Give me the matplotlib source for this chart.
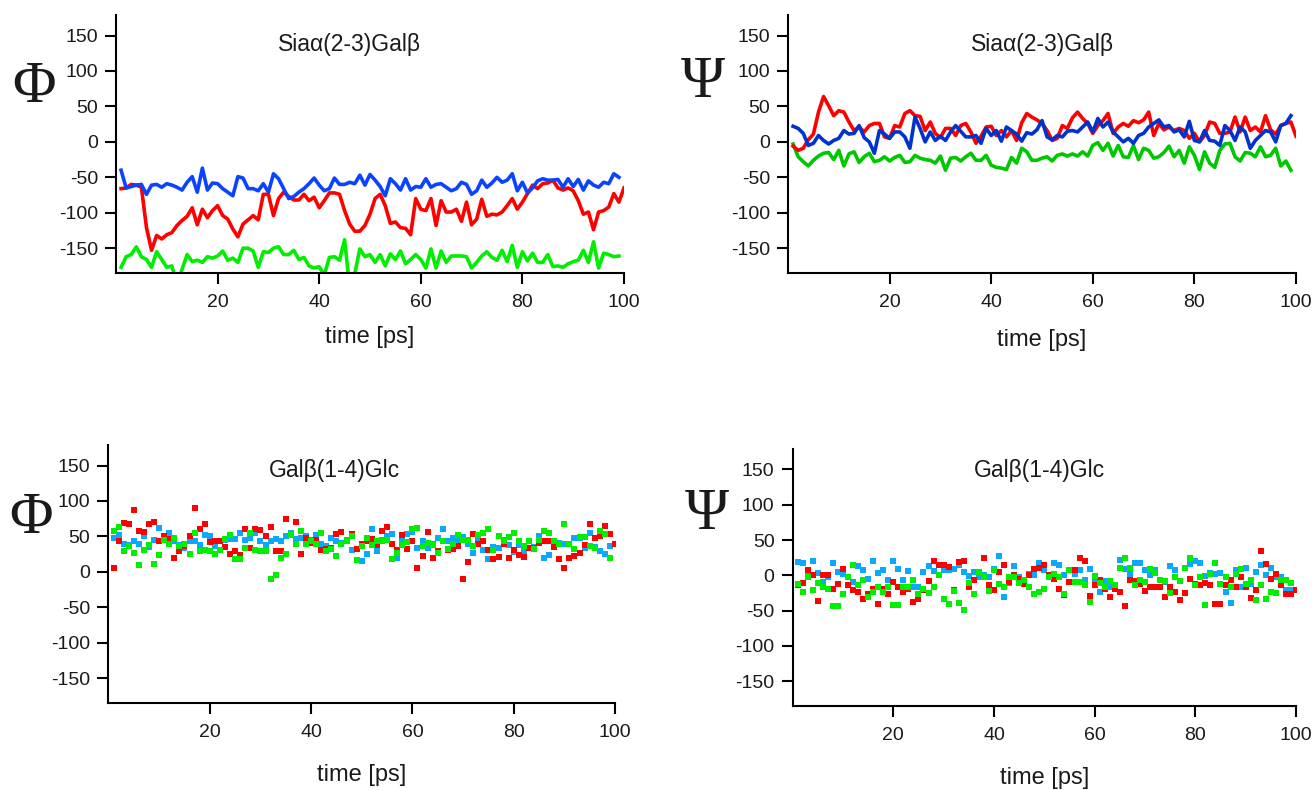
import numpy as np
import matplotlib
matplotlib.use("Agg")
import matplotlib.pyplot as plt

nan = np.nan

# Sia(2-3)Gal, Phi (lines)
phi_sia_blue = [-40, -65, -63, -61, -60, -74, -61, -60, -64, -59,
                -61, -64, -68, -57, -49, -71, -37, -68, -58, -59,
                -66, -71, -76, -49, -51, -66, -66, -69, -59, -71,
                -45, -52, -66, -80, -77, -71, -66, -59, -51, -61,
                -69, -66, -51, -60, -60, -57, -59, -47, -61, -46,
                -54, -63, -76, -52, -59, -68, -52, -68, -63, -64,
                -52, -64, -60, -59, -64, -69, -66, -57, -60, -74,
                -69, -54, -64, -58, -50, -57, -54, -45, -69, -57,
                -72, -65, -55, -52, -54, -54, -53, -64, -52, -63,
                -53, -68, -55, -61, -64, -57, -59, -45, -50]
phi_sia_red = [-66, -65, -60, -61, -64, -121, -153, -132, -137, -131,
               -128, -118, -111, -105, -93, -117, -95, -107, -97, -90,
               -104, -109, -123, -134, -116, -110, -104, -110, -74, -74,
               -104, -80, -71, -77, -82, -82, -74, -83, -78, -93,
               -83, -72, -72, -74, -97, -116, -126, -126, -118, -102,
               -80, -74, -90, -115, -113, -121, -122, -131, -80, -95,
               -97, -80, -118, -83, -99, -99, -95, -112, -85, -117,
               -109, -81, -105, -102, -103, -99, -90, -80, -95, -85,
               -73, -61, -66, -59, -58, -54, -65, -68, -65, -69,
               -83, -102, -99, -124, -99, -97, -92, -73, -85, -65]
phi_sia_green = [-177, -162, -159, -148, -162, -166, -177, -155, -166, -177,
                 -175, -200, -180, -159, -169, -167, -170, -162, -164, -161,
                 -154, -167, -164, -170, -150, -150, -154, -177, -155, -156,
                 -150, -148, -159, -159, -153, -166, -163, -175, -178, -176,
                 -188, -163, -162, -167, -138, -205, -186, -151, -162, -159,
                 -170, -159, -175, -158, -166, -154, -172, -166, -159, -166,
                 -178, -151, -178, -154, -170, -161, -161, -161, -162, -178,
                 -170, -161, -155, -163, -167, -153, -169, -146, -177, -155,
                 -168, -157, -170, -170, -159, -176, -175, -177, -172, -169,
                 -167, -153, -170, -141, -178, -157, -159, -162, -161]

# Sia(2-3)Gal, Psi (lines)
psi_sia_red = [-6, -12, -9, 3, 11, 42, 64, 51, 37, 44,
               42, 28, 16, 21, 14, 23, 26, 26, 7, 5,
               23, 21, 40, 44, 37, 36, 16, 28, 12, 6,
               19, 19, 9, 23, 26, 14, -2, 8, 21, 22,
               9, 16, 7, 16, 2, 27, 40, 35, 31, 26,
               16, 2, 5, 23, 19, 34, 42, 33, 26, 12,
               23, 30, 40, 12, 21, 26, 22, 30, 27, 31,
               42, 9, 26, 17, 21, 16, 19, 16, 5, 12,
               0, 9, 28, 26, 12, 12, 14, 35, 14, 35,
               16, 21, 14, 37, 17, 11, 23, 26, 28, 8]
psi_sia_blue = [22, 19, 12, -5, -2, 9, 2, -3, 2, 5,
                16, 11, 12, 23, 6, 0, -16, 16, 11, 5,
                14, 14, 7, -9, 35, 19, 0, 14, 2, 8,
                2, 14, 23, 15, 7, 7, 9, -2, 19, 9,
                16, 1, 21, 16, 11, 1, 13, 11, 17, 30,
                7, 3, 9, 7, 15, 16, 14, 21, 28, 14,
                33, 21, 28, 14, 7, 0, 5, -2, 9, 12,
                21, 26, 31, 21, 23, 14, 17, 7, 29, 2,
                0, 16, 2, 1, -5, 23, 16, 2, 21, 14,
                -9, 2, 9, 16, 14, 0, 23, 26, 37]
psi_sia_green = [-3, -21, -28, -34, -26, -20, -16, -15, -25, -12,
                 -34, -17, -14, -29, -21, -16, -28, -26, -21, -27,
                 -22, -19, -29, -28, -19, -23, -25, -26, -30, -20,
                 -40, -23, -22, -27, -21, -16, -26, -26, -19, -33,
                 -36, -37, -39, -22, -30, -9, -14, -26, -26, -23,
                 -21, -27, -19, -17, -20, -17, -20, -14, -20, -5,
                 -1, -12, -2, -20, -5, -21, -22, -5, -25, -9,
                 -12, -23, -21, -15, -6, -21, -12, -30, -7, -19,
                 -39, -14, -30, -36, -12, -3, -2, -21, -27, -15,
                 -16, -21, -7, -21, -19, -9, -34, -27, -40]

# Gal(1-4)Glc, Phi (points)
phi_gal_red = [5, 44, 69, 68, 87, 57, 56, 68, 71, 43,
               51, 46, 19, 30, 36, 50, 90, 60, 67, 42,
               44, 44, 35, 25, 29, 24, 60, 33, 60, 59,
               51, 63, 29, 30, 74, nan, 71, 25, 48, 41,
               45, 31, 32, 33, 53, 56, nan, 53, 32, 40,
               43, 46, 38, 58, 63, 40, 31, 52, 32, 43,
               6, 23, 56, 20, 29, 43, 31, 32, 36, -10,
               14, 54, 40, 44, 31, 18, 21, 39, 20, 31,
               24, 21, 33, 33, 41, 43, 43, 35, 18, 6,
               20, 22, 26, 38, 67, 48, 51, 65, 54, 40]
phi_gal_blue = [48, 52, 39, 38, 43, 40, 51, 35, 45, 62,
                50, 55, 43, 38, 33, 44, 43, 38, 52, 50,
                37, 44, 45, 46, 46, 55, 45, 48, 55, 44,
                38, 43, 46, 43, 50, 55, 46, 48, 50, 45,
                52, 40, 37, 48, 43, 41, 45, 31, 32, 15,
                25, 61, 29, 45, 50, 54, 20, 46, 54, 56,
                33, 43, 33, 39, 48, 60, 44, 48, 43, 49,
                39, 27, 45, 31, 18, 35, 33, 45, 38, 28,
                38, 28, 44, 35, 50, 20, 24, 40, 41, 39,
                39, 48, 48, 33, 55, 35, 29, 25, 37]
phi_gal_green = [58, 63, 29, 36, 26, 10, 31, 38, 11, 24,
                 45, 40, 48, 37, 40, 25, 55, 29, 31, 29,
                 25, 31, 46, 52, 18, 18, 33, 55, 31, 29,
                 29, -10, -5, 19, 25, 52, 40, 57, 40, 44,
                 40, 55, 29, 32, 22, 40, 43, 50, 17, 37,
                 48, 38, 44, 44, 45, 18, 26, 38, 42, 60,
                 62, 37, 41, 38, 27, 43, 32, 40, 52, 45,
                 45, 36, 52, 55, 60, 31, 51, 43, 49, 55,
                 44, 36, 44, 32, 45, 58, 55, 44, 40, 67,
                 40, 32, 49, 49, 36, 33, 58, 54, 19]

# Gal(1-4)Glc, Psi (points)
psi_gal_red = [-13, -11, 8, 0, -36, 1, 1, -19, -12, 9,
               -14, -20, -24, -34, -26, -19, -40, -19, -27, -9,
               -17, -24, -19, -38, -33, -21, -8, 21, 14, 14,
               12, -21, 19, 20, -17, -7, nan, 25, -14, -20,
               5, 15, -9, 0, -5, -12, 1, 9, 11, 14,
               1, -5, -19, -28, -9, 8, 25, 20, -29, -13,
               -6, -19, -30, -19, -24, -43, -6, -8, -12, -22,
               -17, -17, -17, -31, -16, -23, -35, -25, -5, -12,
               -14, -11, -13, -41, -41, -13, -6, -17, -3, -16,
               -32, -21, 34, 16, -5, 2, -14, -26, -26, -21]
psi_gal_blue = [19, 17, 2, 21, 3, -9, -3, 17, 5, 2,
                -2, -9, 13, 8, -5, 20, 3, 7, -6, 21,
                9, -7, 6, -17, -17, 5, 13, 6, 14, 8,
                8, 9, 14, 5, -1, 5, -3, 1, -2, 9,
                28, -31, -11, 13, -2, -6, 2, 1, 18, 7,
                -2, 17, 14, 0, 7, 2, 8, -7, 9, -5,
                -24, -8, -17, -17, 22, 9, 2, 18, 17, 8,
                1, 7, -17, -9, 13, 8, nan, 11, 16, 20,
                17, -1, 3, 2, 3, -24, -39, 8, -16, 11,
                -12, 5, 15, 1, 11, -2, -3, -20, -20]
psi_gal_green = [-12, -24, -3, -20, -11, -16, -19, -44, -44, -26,
                 -2, 14, -13, -6, -31, -24, -17, -24, -16, -42,
                 -42, -17, -17, -7, -27, -19, -25, -16, 1, -34,
                 -40, -22, -39, -49, -11, -26, 5, -2, -22, 8,
                 -12, -17, -3, -3, -11, -7, -16, -27, -24, -19,
                 -2, 2, -2, -26, 7, -10, -10, -14, -37, -1,
                 -11, -17, -8, -14, 10, 24, 11, -13, -7, -9,
                 9, 3, -6, -8, -25, -2, -8, 11, 24, -13,
                 -3, -42, 2, 17, -12, -3, -17, 2, 9, -12,
                 -6, -35, -14, -33, -24, -25, -7, -7, -11]

title_top = "Sia\u03b1(2-3)Gal\u03b2"
title_bottom = "Gal\u03b2(1-4)Glc"
yticks = [-150, -100, -50, 0, 50, 100, 150]
xticks = [20, 40, 60, 80, 100]

plt.rcParams["font.family"] = ["Liberation Sans", "DejaVu Sans"]
plt.rcParams["axes.unicode_minus"] = False

W, H = 1316, 790
fig = plt.figure(figsize=(W / 100, H / 100), dpi=100)


def px_axes(left, right, top, bottom):
    return fig.add_axes([left / W, 1 - bottom / H, (right - left) / W, (bottom - top) / H])


def style(ax, title, tx, ty, xlab_y):
    ax.set_xlim(0, 100)
    ax.set_ylim(-185, 179)
    ax.set_xticks(xticks)
    ax.set_yticks(yticks)
    for s in ("top", "right"):
        ax.spines[s].set_visible(False)
    for s in ("left", "bottom"):
        ax.spines[s].set_linewidth(1.5)
    ax.tick_params(length=8, width=1.5, labelsize=14, color="black",
                   labelcolor="#1a1a1a")
    ax.tick_params(axis="y", pad=5)
    ax.tick_params(axis="x", pad=7)
    ax.text(tx, ty, title, transform=ax.transAxes, ha="center", va="center",
            fontsize=16.5, color="#1a1a1a")
    ax.set_xlabel("time [ps]", fontsize=17, va="center", color="#1a1a1a")
    ax.xaxis.set_label_coords(0.5, xlab_y)


def greek(x, y, s):
    fig.text(x / W, 1 - y / H, s, ha="center", va="center", fontsize=43,
             family=["Liberation Serif", "DejaVu Serif"], color="#1a1a1a")


t = np.arange(1, 101)
ms = 4.2

# top left: Phi of Sia(2-3)Gal
ax1 = px_axes(116, 624, 15, 273)
ax1.plot(t[:len(phi_sia_green)], phi_sia_green, color="#00ee00", lw=2.6)
ax1.plot(t[:len(phi_sia_red)], phi_sia_red, color="#ff0000", lw=2.6)
ax1.plot(t[:len(phi_sia_blue)], phi_sia_blue, color="#0a44ff", lw=2.6)
style(ax1, title_top, 0.46, 0.884, -0.248)
greek(34, 88, "\u03a6")

# top right: Psi of Sia(2-3)Gal
ax2 = px_axes(788, 1296, 15, 273)
ax2.plot(t[:len(psi_sia_green)], psi_sia_green, color="#00c800", lw=2.6)
ax2.plot(t[:len(psi_sia_red)], psi_sia_red, color="#ff0000", lw=2.6)
ax2.plot(t[:len(psi_sia_blue)], psi_sia_blue, color="#0033cc", lw=2.6)
style(ax2, title_top, 0.5, 0.884, -0.26)
greek(703, 83, "\u03a8")

# bottom left: Phi of Gal(1-4)Glc
ax3 = px_axes(108.5, 615, 445, 703)
ax3.plot(t[:len(phi_gal_blue)], phi_gal_blue, "s", color="#0aa8ff", ms=ms, mew=0)
ax3.plot(t[:len(phi_gal_red)], phi_gal_red, "s", color="#ff0000", ms=ms, mew=0)
ax3.plot(t[:len(phi_gal_green)], phi_gal_green, "s", color="#00ee00", ms=ms, mew=0)
style(ax3, title_bottom, 0.446, 0.903, -0.279)
greek(31, 519, "\u03a6")

# bottom right: Psi of Gal(1-4)Glc
ax4 = px_axes(792.6, 1296, 449, 706)
ax4.plot(t[:len(psi_gal_blue)], psi_gal_blue, "s", color="#0aa8ff", ms=ms, mew=0)
ax4.plot(t[:len(psi_gal_red)], psi_gal_red, "s", color="#ff0000", ms=ms, mew=0)
ax4.plot(t[:len(psi_gal_green)], psi_gal_green, "s", color="#00ee00", ms=ms, mew=0)
style(ax4, title_bottom, 0.49, 0.918, -0.279)
greek(707, 515, "\u03a8")

fig.savefig("out.png", dpi=100)
